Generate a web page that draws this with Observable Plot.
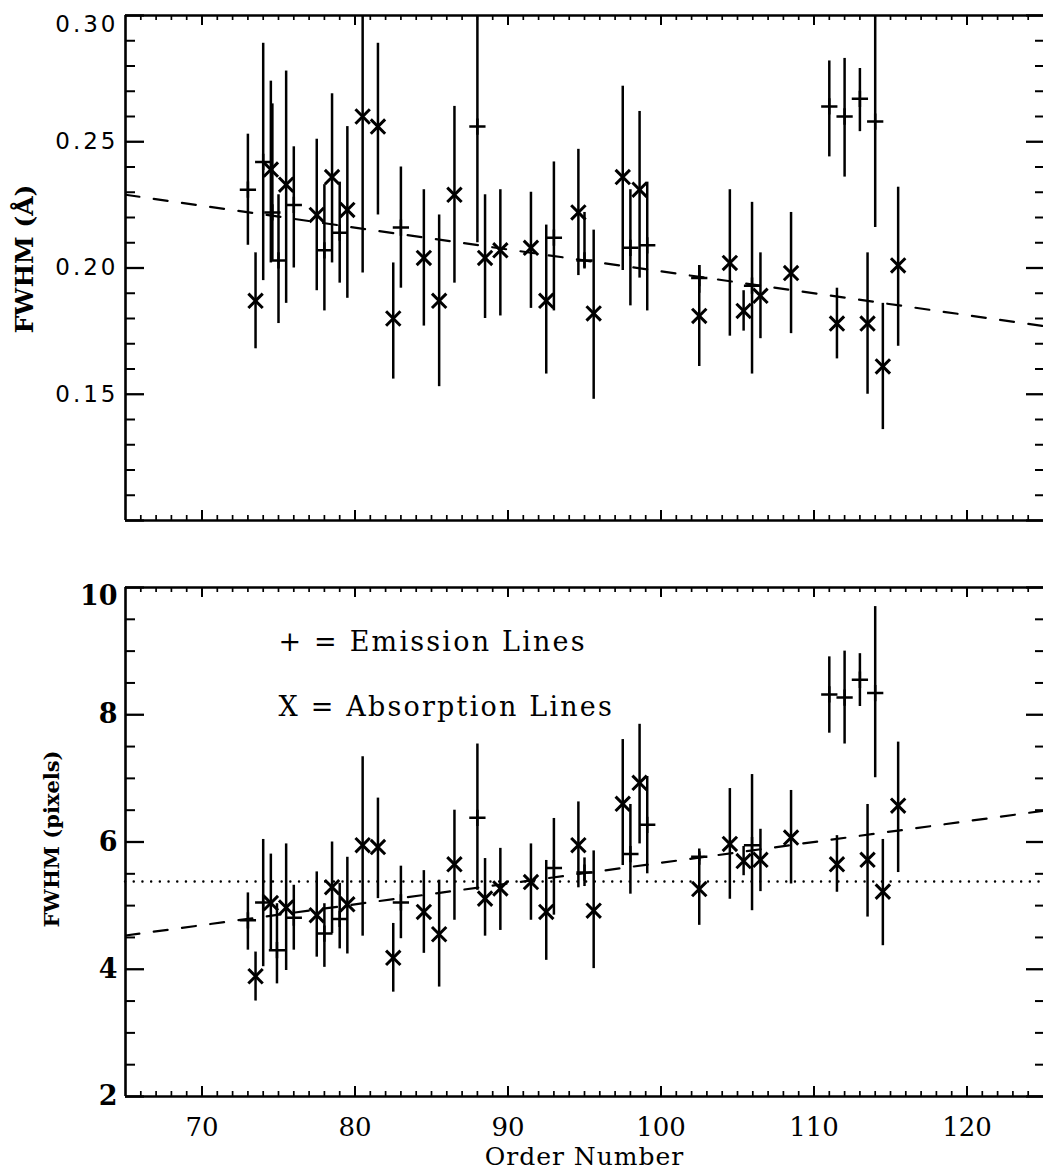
<!DOCTYPE html>
<html>
<head>
<meta charset="utf-8">
<script src="https://cdn.jsdelivr.net/npm/d3@7"></script>
<script src="https://cdn.jsdelivr.net/npm/@observablehq/plot@0.6"></script>
<style>
html, body { margin: 0; padding: 0; background: #fff; overflow: hidden; }
#chart { width: 1043px; height: 1173px; position: relative; }
#chart svg { display: block; }
</style>
</head>
<body>
<div id="chart"></div>
<script>
// ---------------- data ----------------
const orderDomain = [65, 125];
const xTickLabels = [70, 80, 90, 100, 110, 120];
const topYDomain = [0.10, 0.30];
const topYMajor = [0.10, 0.15, 0.20, 0.25, 0.30];
const topYLabels = [0.15, 0.20, 0.25, 0.30];
const pixYDomain = [2, 10];
const pixYMajor = [2, 4, 6, 8, 10];
const pixYLabels = [2, 4, 6, 8, 10];

// [order, FWHM, lower end of error bar, upper end of error bar]
const emissionTop = [
  [73.0, 0.231, 0.209, 0.253], [74.0, 0.242, 0.195, 0.289], [74.6, 0.222, 0.203, 0.265],
  [75.0, 0.203, 0.178, 0.229], [76.0, 0.225, 0.200, 0.248], [78.0, 0.207, 0.183, 0.233],
  [79.0, 0.214, 0.194, 0.234], [83.0, 0.216, 0.192, 0.240], [88.0, 0.256, 0.210, 0.320],
  [93.0, 0.212, 0.183, 0.242], [95.0, 0.203, 0.200, 0.222], [98.0, 0.208, 0.185, 0.231],
  [99.1, 0.209, 0.183, 0.234], [102.5, 0.196, 0.190, 0.201], [105.95, 0.193, 0.158, 0.226],
  [111.0, 0.264, 0.244, 0.282], [112.0, 0.260, 0.236, 0.283], [113.0, 0.267, 0.254, 0.279],
  [114.0, 0.258, 0.216, 0.320]
];
const absorptionTop = [
  [73.5, 0.187, 0.168, 0.206], [74.5, 0.239, 0.202, 0.274], [75.5, 0.233, 0.186, 0.278],
  [77.5, 0.221, 0.191, 0.251], [78.5, 0.236, 0.202, 0.269], [79.5, 0.223, 0.188, 0.256],
  [80.5, 0.260, 0.198, 0.320], [81.5, 0.256, 0.221, 0.289], [82.5, 0.180, 0.156, 0.202],
  [84.5, 0.204, 0.177, 0.231], [85.5, 0.187, 0.153, 0.221], [86.5, 0.229, 0.194, 0.264],
  [88.5, 0.204, 0.180, 0.229], [89.5, 0.207, 0.181, 0.231], [91.5, 0.208, 0.184, 0.230],
  [92.5, 0.187, 0.158, 0.217], [94.6, 0.222, 0.197, 0.247], [95.6, 0.182, 0.148, 0.215],
  [97.5, 0.236, 0.199, 0.272], [98.6, 0.231, 0.196, 0.262], [102.5, 0.181, 0.161, 0.201],
  [104.5, 0.202, 0.173, 0.231], [105.4, 0.183, 0.175, 0.191], [106.5, 0.189, 0.172, 0.206],
  [108.5, 0.198, 0.174, 0.222], [111.5, 0.178, 0.164, 0.192], [113.5, 0.178, 0.150, 0.206],
  [114.5, 0.161, 0.136, 0.186], [115.5, 0.201, 0.169, 0.232]
];
const emissionPix = [
  [73.0, 4.77, 4.30, 5.20], [74.0, 5.05, 4.04, 6.04], [74.9, 4.30, 3.77, 5.03],
  [76.0, 4.81, 4.30, 5.32], [78.0, 4.56, 4.03, 5.03], [79.0, 4.79, 4.32, 5.35],
  [83.0, 5.05, 4.48, 5.62], [88.0, 6.38, 5.24, 7.54], [93.0, 5.59, 4.85, 6.37],
  [95.0, 5.52, 5.30, 5.75], [98.0, 5.81, 5.18, 6.59], [99.1, 6.27, 5.50, 7.03],
  [102.5, 5.77, 5.70, 5.85], [105.95, 5.95, 4.92, 7.06], [111.0, 8.32, 7.71, 8.91],
  [112.0, 8.27, 7.54, 9.00], [113.0, 8.55, 8.13, 8.96], [114.0, 8.34, 7.01, 9.70]
];
const absorptionPix = [
  [73.5, 3.89, 3.50, 4.27], [74.5, 5.04, 4.30, 5.81], [75.5, 4.97, 3.98, 5.97],
  [77.5, 4.85, 4.19, 5.53], [78.5, 5.29, 4.56, 6.00], [79.5, 5.02, 4.24, 5.76],
  [80.5, 5.95, 4.52, 7.34], [81.5, 5.92, 5.11, 6.69], [82.5, 4.18, 3.64, 4.72],
  [84.5, 4.90, 4.25, 5.55], [85.5, 4.55, 3.72, 5.40], [86.5, 5.65, 4.77, 6.50],
  [88.5, 5.11, 4.52, 5.74], [89.5, 5.27, 4.61, 5.90], [91.5, 5.37, 4.77, 5.97],
  [92.5, 4.90, 4.14, 5.71], [94.6, 5.95, 5.28, 6.63], [95.6, 4.92, 4.01, 5.86],
  [97.5, 6.60, 5.63, 7.61], [98.6, 6.93, 5.97, 7.85], [102.5, 5.26, 4.69, 5.83],
  [104.5, 5.97, 5.10, 6.84], [105.4, 5.70, 5.47, 5.93], [106.5, 5.72, 5.22, 6.20],
  [108.5, 6.07, 5.34, 6.81], [111.5, 5.65, 5.21, 6.10], [113.5, 5.72, 4.82, 6.59],
  [114.5, 5.22, 4.37, 6.04], [115.5, 6.57, 5.52, 7.57]
];
const fitOrders = [65, 125];
const fitTop = [0.229, 0.177];
const fitPix = [4.53, 6.49];
const nominalPix = [5.38];
const legendLines = ["+ = Emission Lines", "X = Absorption Lines"];
const yTitles = ["FWHM (Å)", "FWHM (pixels)"];
const xTitle = ["Order Number"];

// ---------------- drawing ----------------
const W = 1043, ML = 125, MR = 0;
const xMinor = d3.range(66, 125, 1).filter(v => v % 10 !== 0);

function panel(o) {
  const plotW = W - ML - MR;
  const plotH = o.height - o.marginTop - o.marginBottom;
  const fitData = fitOrders.map((x, i) => ({x, y: o.fit[i]}));
  const marks = [
    // frame (left, top, bottom)
    Plot.ruleX([orderDomain[0]], {strokeWidth: 2.6}),
    Plot.ruleY(o.yDomain, {y: d => d, strokeWidth: 2.6}),
    // inward ticks, left & right
    Plot.tickY(o.yMajor, {y: d => d, insetRight: plotW - 19, strokeWidth: 2.3}),
    Plot.tickY(o.yMinor, {y: d => d, insetRight: plotW - 10, strokeWidth: 2}),
    Plot.tickY(o.yMajor, {y: d => d, insetLeft: plotW - 17, strokeWidth: 2.3}),
    Plot.tickY(o.yMinor, {y: d => d, insetLeft: plotW - 8, strokeWidth: 2}),
    // inward ticks, top & bottom
    Plot.tickX(xTickLabels, {x: d => d, insetBottom: plotH - 10, strokeWidth: 2}),
    Plot.tickX(xMinor, {x: d => d, insetBottom: plotH - 5, strokeWidth: 1.7}),
    Plot.tickX(xTickLabels, {x: d => d, insetTop: plotH - 10, strokeWidth: 2}),
    Plot.tickX(xMinor, {x: d => d, insetTop: plotH - 5, strokeWidth: 1.7}),
    // fit line
    Plot.line(fitData, {x: "x", y: "y", strokeWidth: 2.2, strokeDasharray: "14,14.5", clip: true}),
  ];
  if (o.nominal) {
    marks.push(Plot.ruleY(o.nominal, {y: d => d, strokeWidth: 2.4, strokeDasharray: "0.1,8.6", strokeLinecap: "round"}));
  }
  marks.push(
    Plot.ruleX(o.emission, {x: d => d[0], y1: d => d[2], y2: d => d[3], strokeWidth: 2.5, clip: true}),
    Plot.ruleX(o.absorption, {x: d => d[0], y1: d => d[2], y2: d => d[3], strokeWidth: 2.5, clip: true}),
    Plot.dot(o.emission, {x: d => d[0], y: d => d[1], symbol: "plus", r: 5.3, stroke: "black", fill: "none", strokeWidth: 2.5}),
    Plot.dot(o.absorption, {x: d => d[0], y: d => d[1], symbol: "times", r: 6.6, stroke: "black", fill: "none", strokeWidth: 3}),
    Plot.axisY(o.yLabels, {anchor: "left", tickSize: 0, tickPadding: o.tickPadding, tickFormat: o.tickFormat,
      fontSize: o.yFontSize, fontFamily: o.yFontFamily, fontWeight: o.yFontWeight, label: null}),
    Plot.text([o.yTitle], {text: d => d, frameAnchor: "left", dx: o.titleDx, dy: o.titleDy, rotate: -90,
      fontSize: o.titleSize, fontFamily: "DejaVu Serif", fontWeight: "bold", lineAnchor: "middle", textAnchor: "middle"})
  );
  if (o.xAxis) {
    marks.push(
      Plot.axisX(xTickLabels, {anchor: "bottom", tickSize: 0, tickPadding: 21, fontSize: 26, fontFamily: "DejaVu Serif", label: null}),
      Plot.text(xTitle, {text: d => d, frameAnchor: "bottom", dy: 60, fontSize: 25, fontFamily: "DejaVu Serif",
        lineAnchor: "middle", ariaDescription: "xtitle"})
    );
  }
  if (o.legend) {
    marks.push(
      Plot.text([legendLines[0]], {text: d => d, frameAnchor: "top-left", dx: 153, dy: 55, textAnchor: "start", lineAnchor: "middle",
        fontSize: 27, fontFamily: "DejaVu Serif", ariaDescription: "legend"}),
      Plot.text([legendLines[1]], {text: d => d, frameAnchor: "top-left", dx: 153, dy: 120, textAnchor: "start", lineAnchor: "middle",
        fontSize: 27, fontFamily: "DejaVu Serif", ariaDescription: "legend"})
    );
  }
  const svg = Plot.plot({
    width: W, height: o.height,
    marginLeft: ML, marginRight: MR, marginTop: o.marginTop, marginBottom: o.marginBottom,
    style: {background: "white", color: "black", overflow: "hidden"},
    x: {domain: orderDomain, axis: null},
    y: {domain: o.yDomain, axis: null},
    marks
  });
  const s = d3.select(svg);
  const yl = s.selectAll('g[aria-label="y-axis tick label"] text');
  if (o.letterSpacing) yl.attr("letter-spacing", o.letterSpacing);
  // the label at the top corner sits a little below its tick, as in the original
  const topLabel = o.tickFormat(o.yDomain[1]);
  yl.filter(function() { return this.textContent === topLabel; })
    .attr("transform", function() { return (this.getAttribute("transform") || "") + " translate(0,9)"; });
  s.selectAll('g[aria-description="legend"] text').attr("letter-spacing", "2.2px");
  s.selectAll('g[aria-description="xtitle"] text').attr("letter-spacing", "1px");
  return svg;
}

const chart = document.getElementById("chart");
chart.appendChild(panel({
  height: 560, marginTop: 15, marginBottom: 40,
  yDomain: topYDomain, yMajor: topYMajor,
  yMinor: d3.range(11, 30).filter(v => v % 5 !== 0).map(v => v / 100),
  yLabels: topYLabels, tickFormat: d3.format(".2f"), tickPadding: 7,
  yFontSize: 23, yFontFamily: "DejaVu Sans", yFontWeight: "normal", letterSpacing: "3px",
  yTitle: yTitles[0], titleDx: -101, titleDy: -9, titleSize: 25,
  fit: fitTop, emission: emissionTop, absorption: absorptionTop
}));
chart.appendChild(panel({
  height: 613, marginTop: 27, marginBottom: 77,
  yDomain: pixYDomain, yMajor: pixYMajor,
  yMinor: d3.range(2.5, 10, 0.5).filter(v => v % 2 !== 0),
  yLabels: pixYLabels, tickFormat: d3.format("d"), tickPadding: 8,
  yFontSize: 27, yFontFamily: "DejaVu Serif", yFontWeight: "bold",
  yTitle: yTitles[1], titleDx: -73, titleDy: -3, titleSize: 21,
  fit: fitPix, nominal: nominalPix, emission: emissionPix, absorption: absorptionPix,
  xAxis: true, legend: true
}));
</script>
</body>
</html>
